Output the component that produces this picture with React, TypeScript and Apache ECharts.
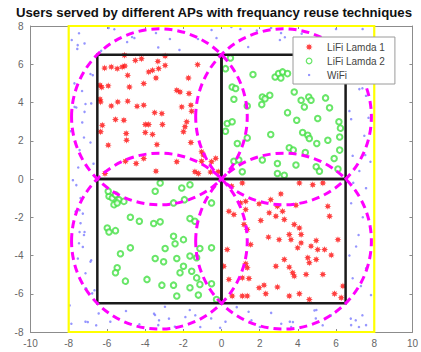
import React, { useEffect, useRef } from "react";
import * as echarts from "echarts";

const titleText = "Users served by different APs with frequancy reuse techniques";
const seriesNames = ["LiFi Lamda 1", "LiFi Lamda 2", "WiFi"];
const xTicks = { min: -10, max: 10, step: 2 };
const yTicks = { min: -8, max: 8, step: 2 };

// LiFi Lamda 1 (red stars): top-left and bottom-right cells
const lifi1Points: number[][] = [
  [-5.08, 6.47], [-4.51, 6.2], [-4.19, 6.29], [-3.33, 6.15], [-2.95, 6.43],
  [-6.12, 5.8], [-5.77, 5.86], [-5.46, 5.77], [-5.2, 5.86], [-5.06, 5.91],
  [-3.81, 5.6], [-3.61, 5.68], [-3.29, 5.77], [-2.95, 5.94], [-1.25, 5.98],
  [-4.91, 5.42], [-3.43, 5.28], [-1.73, 5.28], [-6.36, 4.9], [-6.27, 4.8],
  [-5.93, 4.87], [-4.82, 4.81], [-4.07, 4.99], [-2.34, 4.64], [-2.17, 4.55],
  [-1.7, 4.47], [-6.36, 4.17], [-6.33, 4.03], [-5.77, 3.82], [-5.43, 4.03],
  [-4.91, 4.07], [-4.42, 3.8], [-4.07, 3.86], [-2.08, 3.77], [-1.6, 3.86],
  [-1.56, 3.54], [-3.5, 3.47], [-3.12, 3.42], [-5.55, 3.11], [-5.11, 3.07],
  [-3.99, 2.85], [-3.81, 2.85], [-3.09, 2.85], [-1.82, 2.99], [-1.91, 2.73],
  [-1.99, 2.47], [-6.24, 2.81], [-6.33, 2.47], [-4.99, 2.38], [-3.61, 2.33],
  [-3.99, 2.43], [-4.97, 2.03], [-3.38, 1.8], [-1.6, 1.91], [-5.93, 1.77],
  [-1.04, 1.42], [-0.95, 1.25], [-5.03, 0.93], [-4.47, 0.81], [-4.07, 1.07],
  [-2.34, 0.9], [-1.04, 0.93], [-0.52, 0.9], [-6.1, 0.29], [-3.43, 0.41],
  [-1.39, 0.38], [-1.21, 0.29], [-0.17, 0.38], [-0.3, 1.08], [-0.57, 0.36],
  [0.53, -0.38], [1.09, -0.21], [4.08, -0.21], [4.78, -0.3], [5.31, -0.21],
  [3.11, -0.78], [1.0, -1.25], [1.27, -1.17], [1.97, -1.3], [2.58, -1.08],
  [2.93, -1.43], [3.9, -1.37], [5.57, -1.43], [5.66, -1.95], [0.39, -1.69],
  [0.65, -1.86], [1.27, -1.6], [2.5, -1.77], [3.2, -1.69], [2.85, -1.95],
  [3.29, -2.12], [2.06, -2.17], [3.81, -2.38], [4.08, -2.56], [1.18, -2.38],
  [1.35, -2.64], [2.46, -3.04], [3.02, -3.17], [3.55, -2.9], [3.64, -3.17],
  [4.17, -2.9], [4.17, -3.34], [4.96, -3.22], [6.1, -3.17], [1.53, -3.43],
  [3.99, -3.6], [4.69, -3.51], [5.04, -3.69], [5.4, -3.69], [0.3, -3.69],
  [4.52, -4.12], [3.29, -4.21], [4.96, -4.21], [5.75, -3.98], [0.12, -4.56],
  [1.27, -4.43], [1.35, -4.64], [2.85, -4.56], [3.55, -4.61], [4.6, -4.38],
  [3.73, -4.9], [3.81, -5.08], [4.43, -4.99], [5.31, -4.99], [0.39, -5.25],
  [1.09, -5.17], [1.44, -5.2], [1.97, -5.69], [2.23, -5.55], [2.93, -5.65],
  [6.36, -5.6], [0.56, -6.12], [1.09, -6.12], [1.35, -6.12], [2.32, -6.0],
  [3.55, -6.12], [4.08, -6.0], [4.6, -6.3], [5.92, -6.0], [6.27, -6.21],
];

// LiFi Lamda 2 (green circles): top-right and bottom-left cells
const lifi2Points: number[][] = [
  [0.47, 6.33], [0.21, 5.77], [1.65, 5.46], [2.81, 5.33], [2.99, 5.51],
  [3.2, 5.6], [3.46, 5.51], [3.11, 5.28], [0.56, 4.81], [0.74, 4.73],
  [3.81, 4.55], [2.14, 4.29], [2.53, 4.38], [2.28, 4.2], [2.11, 3.89],
  [4.57, 4.29], [4.69, 4.12], [4.17, 4.12], [4.34, 3.77], [5.45, 4.24],
  [5.66, 3.72], [1.35, 3.82], [0.65, 4.17], [3.46, 3.47], [3.94, 3.07],
  [5.04, 3.16], [6.15, 2.99], [6.23, 2.66], [0.3, 2.9], [0.56, 2.99],
  [0.21, 2.5], [1.35, 2.15], [2.58, 2.33], [4.25, 2.43], [4.52, 2.29],
  [4.6, 2.12], [4.99, 1.86], [5.57, 2.03], [6.19, 2.2], [6.19, 1.51],
  [0.83, 1.86], [3.55, 1.63], [3.76, 1.51], [4.39, 1.39], [0.65, 0.93],
  [0.91, 0.99], [2.14, 0.99], [2.93, 0.81], [3.9, 0.73], [4.96, 0.64],
  [5.13, 0.41], [2.93, 0.29], [3.29, 0.2], [1.09, 0.38], [6.1, 0.52],
  [5.9, 1.07],
  [-5.89, -0.9], [-5.72, -0.99], [-5.55, -0.82], [-5.37, -1.08], [-5.11, -1.17],
  [-5.63, -1.34], [-5.46, -1.25], [-5.93, -0.64], [-3.21, -0.21], [-3.47, -0.64],
  [-2.08, -0.47], [-1.65, -0.3], [-1.94, -1.08], [-2.51, -1.25], [-0.52, -1.25],
  [-4.77, -2.0], [-4.3, -2.21], [-3.55, -2.33], [-3.21, -2.24], [-1.65, -2.07],
  [-1.39, -2.21], [-5.98, -2.56], [-5.89, -2.77], [-5.55, -2.7], [-2.51, -2.99],
  [-1.99, -3.17], [-2.43, -3.39], [-2.95, -3.63], [-4.77, -3.6], [-5.29, -3.91],
  [-3.47, -4.16], [-3.03, -4.33], [-2.34, -4.16], [-1.65, -4.03], [-1.3, -4.12],
  [-1.13, -3.63], [-0.52, -3.6], [-5.46, -4.64], [-5.55, -4.9], [-5.03, -5.34],
  [-1.99, -4.56], [-2.17, -4.9], [-1.56, -4.82], [-1.3, -5.17], [-3.9, -5.25],
  [-3.12, -5.55], [-2.51, -5.55], [-1.65, -5.69], [-1.13, -5.51], [-0.52, -5.48],
  [-2.34, -6.12], [-1.21, -6.07], [-0.26, -6.3],
];

// WiFi (blue dots): strip between the cells and the yellow border
const wifiPoints: number[][] = [
  [-7.46, 7.62], [-5.91, 7.9], [-4.56, 7.37], [-3.31, 6.88], [-2.7, 7.32],
  [-1.23, 7.32], [-7.55, 6.8], [-5.61, 7.83], [-4.68, 7.42], [-3.43, 7.63],
  [-1.97, 7.69], [-0.52, 7.79], [-0.26, 7.37], [0.52, 7.95], [3.12, 7.63],
  [2.6, 7.9], [-7.84, 7.27], [-7.53, 7.0], [-4.94, 7.16], [-7.17, 7.09],
  [0.99, 7.84], [1.85, 7.76], [3.06, 7.27], [3.32, 7.41], [7.39, 7.84],
  [6.0, 7.84], [-6.3, 6.7], [1.4, 6.9], [4.2, 7.6], [5.2, 7.1],
  [7.6, 7.2], [7.0, 6.6], [-2.2, 6.75],
  [-6.86, 5.49], [-7.12, 3.92], [-7.6, 3.74], [-7.29, 2.96], [-7.2, 2.17],
  [-6.86, 1.91], [-6.74, 5.43], [-6.82, 3.95], [-7.69, 3.77], [-7.17, 3.51],
  [-7.43, 1.51], [-7.6, -0.32], [-7.78, -0.06], [-7.43, -1.63], [-7.26, -1.81],
  [-7.43, -2.77], [-7.17, -2.77], [-7.26, -3.55], [-7.52, -4.16], [-6.82, -4.25],
  [-7.08, -5.73], [-6.65, -5.82], [-7.95, -6.61], [-7.38, -2.31], [-7.2, -2.93],
  [-7.46, -3.36], [-6.86, -4.32], [-7.12, -4.93], [-7.12, -5.72], [-6.77, -5.98],
  [-7.38, -1.0], [-7.64, -1.7], [-7.7, 5.0], [-7.3, 4.6], [-6.7, 0.8],
  [-7.5, 0.6], [-7.9, 2.5],
  [-6.43, -7.03], [-7.12, -7.46], [-5.82, -7.46], [-3.48, -7.11], [-3.31, -7.64],
  [-2.96, -6.68], [-1.66, -6.85], [-2.44, -7.72], [-0.54, -7.29], [-7.86, -7.57],
  [-7.0, -7.48], [-6.56, -7.65], [-3.53, -7.04], [-3.27, -7.39], [-2.75, -7.3],
  [-1.89, -7.22], [-1.37, -7.13], [-1.11, -7.74], [-0.07, -7.78], [1.57, -7.39],
  [2.01, -7.74], [3.13, -7.57], [3.65, -7.74], [3.74, -7.48], [4.87, -6.87],
  [4.94, -7.29], [5.3, -7.65], [5.73, -7.13], [6.77, -7.3], [7.03, -7.39],
  [7.38, -7.13], [7.2, -7.74], [1.42, -6.94], [0.21, -7.46], [3.58, -7.46],
  [6.79, -7.64], [7.57, -7.64], [4.97, -6.85], [-5.0, -6.9], [-4.3, -7.6],
  [0.8, -6.7], [2.6, -7.0],
  [7.22, 4.7], [7.57, 4.35], [6.7, 3.55], [6.79, 3.13], [7.48, 2.26],
  [6.87, 1.21], [7.22, 0.42], [7.38, 4.74], [7.53, 1.25], [6.79, -1.27],
  [7.18, -2.93], [7.05, -3.53], [7.57, -4.67], [6.87, -5.19], [7.83, -6.07],
  [7.57, -0.48], [7.7, 3.2], [6.9, -0.2], [7.4, -2.0], [6.7, -4.0],
  [7.3, -5.6], [7.8, 0.9],
];

// Geometry: cells [x1, y1, x2, y2], boundary [x1, y1, x2, y2], circles [cx, cy, r]
const cells: number[][] = [
  [-6.5, 0, 0, 6.5],
  [0, 0, 6.5, 6.5],
  [-6.5, -6.5, 0, 0],
  [0, -6.5, 6.5, 0],
];
const boundary: number[][] = [[-8, -8, 8, 8]];
const circles: number[][] = [
  [-3.25, 3.25, 4.6],
  [3.25, 3.25, 4.6],
  [-3.25, -3.25, 4.6],
  [3.25, -3.25, 4.6],
];

const starPath =
  "path://M10,5 L7.4,4.0 L8.54,1.46 L6.0,2.6 L5,0 L4.0,2.6 L1.46,1.46 L2.6,4.0 L0,5 L2.6,6.0 L1.46,8.54 L4.0,7.4 L5,10 L6.0,7.4 L8.54,8.54 L7.4,6.0 Z";
const ringPath = "path://M0,0 M10,10 M5,1 A4,4 0 1 1 4.99,1 Z";
const dotPath = "path://M0,0 M10,10 M3.5,3.5 L6.5,3.5 L6.5,6.5 L3.5,6.5 Z";

const FONT = "Liberation Sans, Arial, sans-serif";

function rectRenderer(color: string, width: number) {
  return (_params: any, api: any) => {
    const p1 = api.coord([api.value(0), api.value(3)]);
    const p2 = api.coord([api.value(2), api.value(1)]);
    return {
      type: "rect",
      shape: { x: p1[0], y: p1[1], width: p2[0] - p1[0], height: p2[1] - p1[1] },
      style: { fill: "none", stroke: color, lineWidth: width },
    };
  };
}

function circleRenderer(_params: any, api: any) {
  const c = api.coord([api.value(0), api.value(1)]);
  const s = api.size([api.value(2), api.value(2)]);
  return {
    type: "ellipse",
    shape: { cx: c[0], cy: c[1], rx: s[0], ry: s[1] },
    style: { fill: "none", stroke: "#ff00ff", lineWidth: 3, lineDash: [8, 5] },
  };
}

export default function App() {
  const ref = useRef<HTMLDivElement>(null);
  useEffect(() => {
    if (!ref.current) return;
    const chart = echarts.init(ref.current, undefined, { renderer: "svg" });
    const axisLine = { show: true, onZero: false, lineStyle: { color: "#8c8c8c", width: 1 } };
    const tick = { show: true, inside: true, length: 3, lineStyle: { color: "#8c8c8c" } };
    const label = { color: "#666", fontSize: 10, fontFamily: FONT };
    chart.setOption({
      animation: false,
      backgroundColor: "#fff",
      title: {
        text: titleText,
        left: 16,
        top: 6,
        padding: 0,
        textStyle: { fontSize: 13.2, fontWeight: "bold", color: "#111", fontFamily: FONT },
      },
      legend: {
        orient: "vertical",
        left: 293,
        top: 37,
        z: 20,
        padding: [3, 10, 2, 12],
        itemGap: 0,
        itemWidth: 26,
        itemHeight: 7,
        symbolKeepAspect: true,
        backgroundColor: "#fff",
        borderColor: "#9a9a9a",
        borderWidth: 1,
        borderRadius: 0,
        textStyle: { fontSize: 10, color: "#444", fontFamily: FONT, lineHeight: 14 },
        data: [
          { name: seriesNames[0], icon: starPath },
          {
            name: seriesNames[1], icon: ringPath,
            itemStyle: { color: "#fff", borderColor: "#44e044", borderWidth: 1.2 },
          },
          { name: seriesNames[2], icon: dotPath },
        ],
      },
      grid: { left: 30.5, top: 26, width: 385, height: 306 },
      xAxis: [
        {
          type: "value", min: xTicks.min, max: xTicks.max, interval: xTicks.step,
          axisLine, axisTick: tick, splitLine: { show: false },
          axisLabel: { ...label, margin: 6 },
        },
        {
          type: "value", position: "top", min: xTicks.min, max: xTicks.max, interval: xTicks.step,
          axisLine, axisTick: tick, splitLine: { show: false }, axisLabel: { show: false },
        },
      ],
      yAxis: [
        {
          type: "value", min: yTicks.min, max: yTicks.max, interval: yTicks.step,
          axisLine, axisTick: tick, splitLine: { show: false },
          axisLabel: { ...label, margin: 7 },
        },
        {
          type: "value", position: "right", min: yTicks.min, max: yTicks.max, interval: yTicks.step,
          axisLine, axisTick: tick, splitLine: { show: false }, axisLabel: { show: false },
        },
      ],
      series: [
        {
          name: seriesNames[2], type: "scatter", data: wifiPoints, symbol: "circle", symbolSize: 2.5,
          itemStyle: { color: "#7b7bff" }, z: 2,
        },
        {
          name: seriesNames[0], type: "scatter", data: lifi1Points, symbol: starPath, symbolSize: 7,
          itemStyle: { color: "#ff1010" }, z: 2,
        },
        {
          name: seriesNames[1], type: "scatter", data: lifi2Points, symbol: "emptyCircle", symbolSize: 5.5,
          itemStyle: { color: "#44e044", borderColor: "#44e044", borderWidth: 1.2 }, z: 2,
        },
        {
          type: "custom", data: boundary, renderItem: rectRenderer("#ffff00", 2.2), clip: false, z: 3,
          encode: { x: [0, 2], y: [1, 3] }, silent: true,
        },
        {
          type: "custom", data: cells, renderItem: rectRenderer("#1a1a1a", 2.5), clip: false, z: 4,
          encode: { x: [0, 2], y: [1, 3] }, silent: true,
        },
        {
          type: "custom", data: circles, renderItem: circleRenderer, clip: false, z: 5,
          encode: { x: 0, y: 1 }, silent: true,
        },
      ],
    });
    return () => chart.dispose();
  }, []);
  return (
    <div
      ref={ref}
      style={{ position: "absolute", left: 0, top: 0, width: 421, height: 352, background: "#fff" }}
    />
  );
}
